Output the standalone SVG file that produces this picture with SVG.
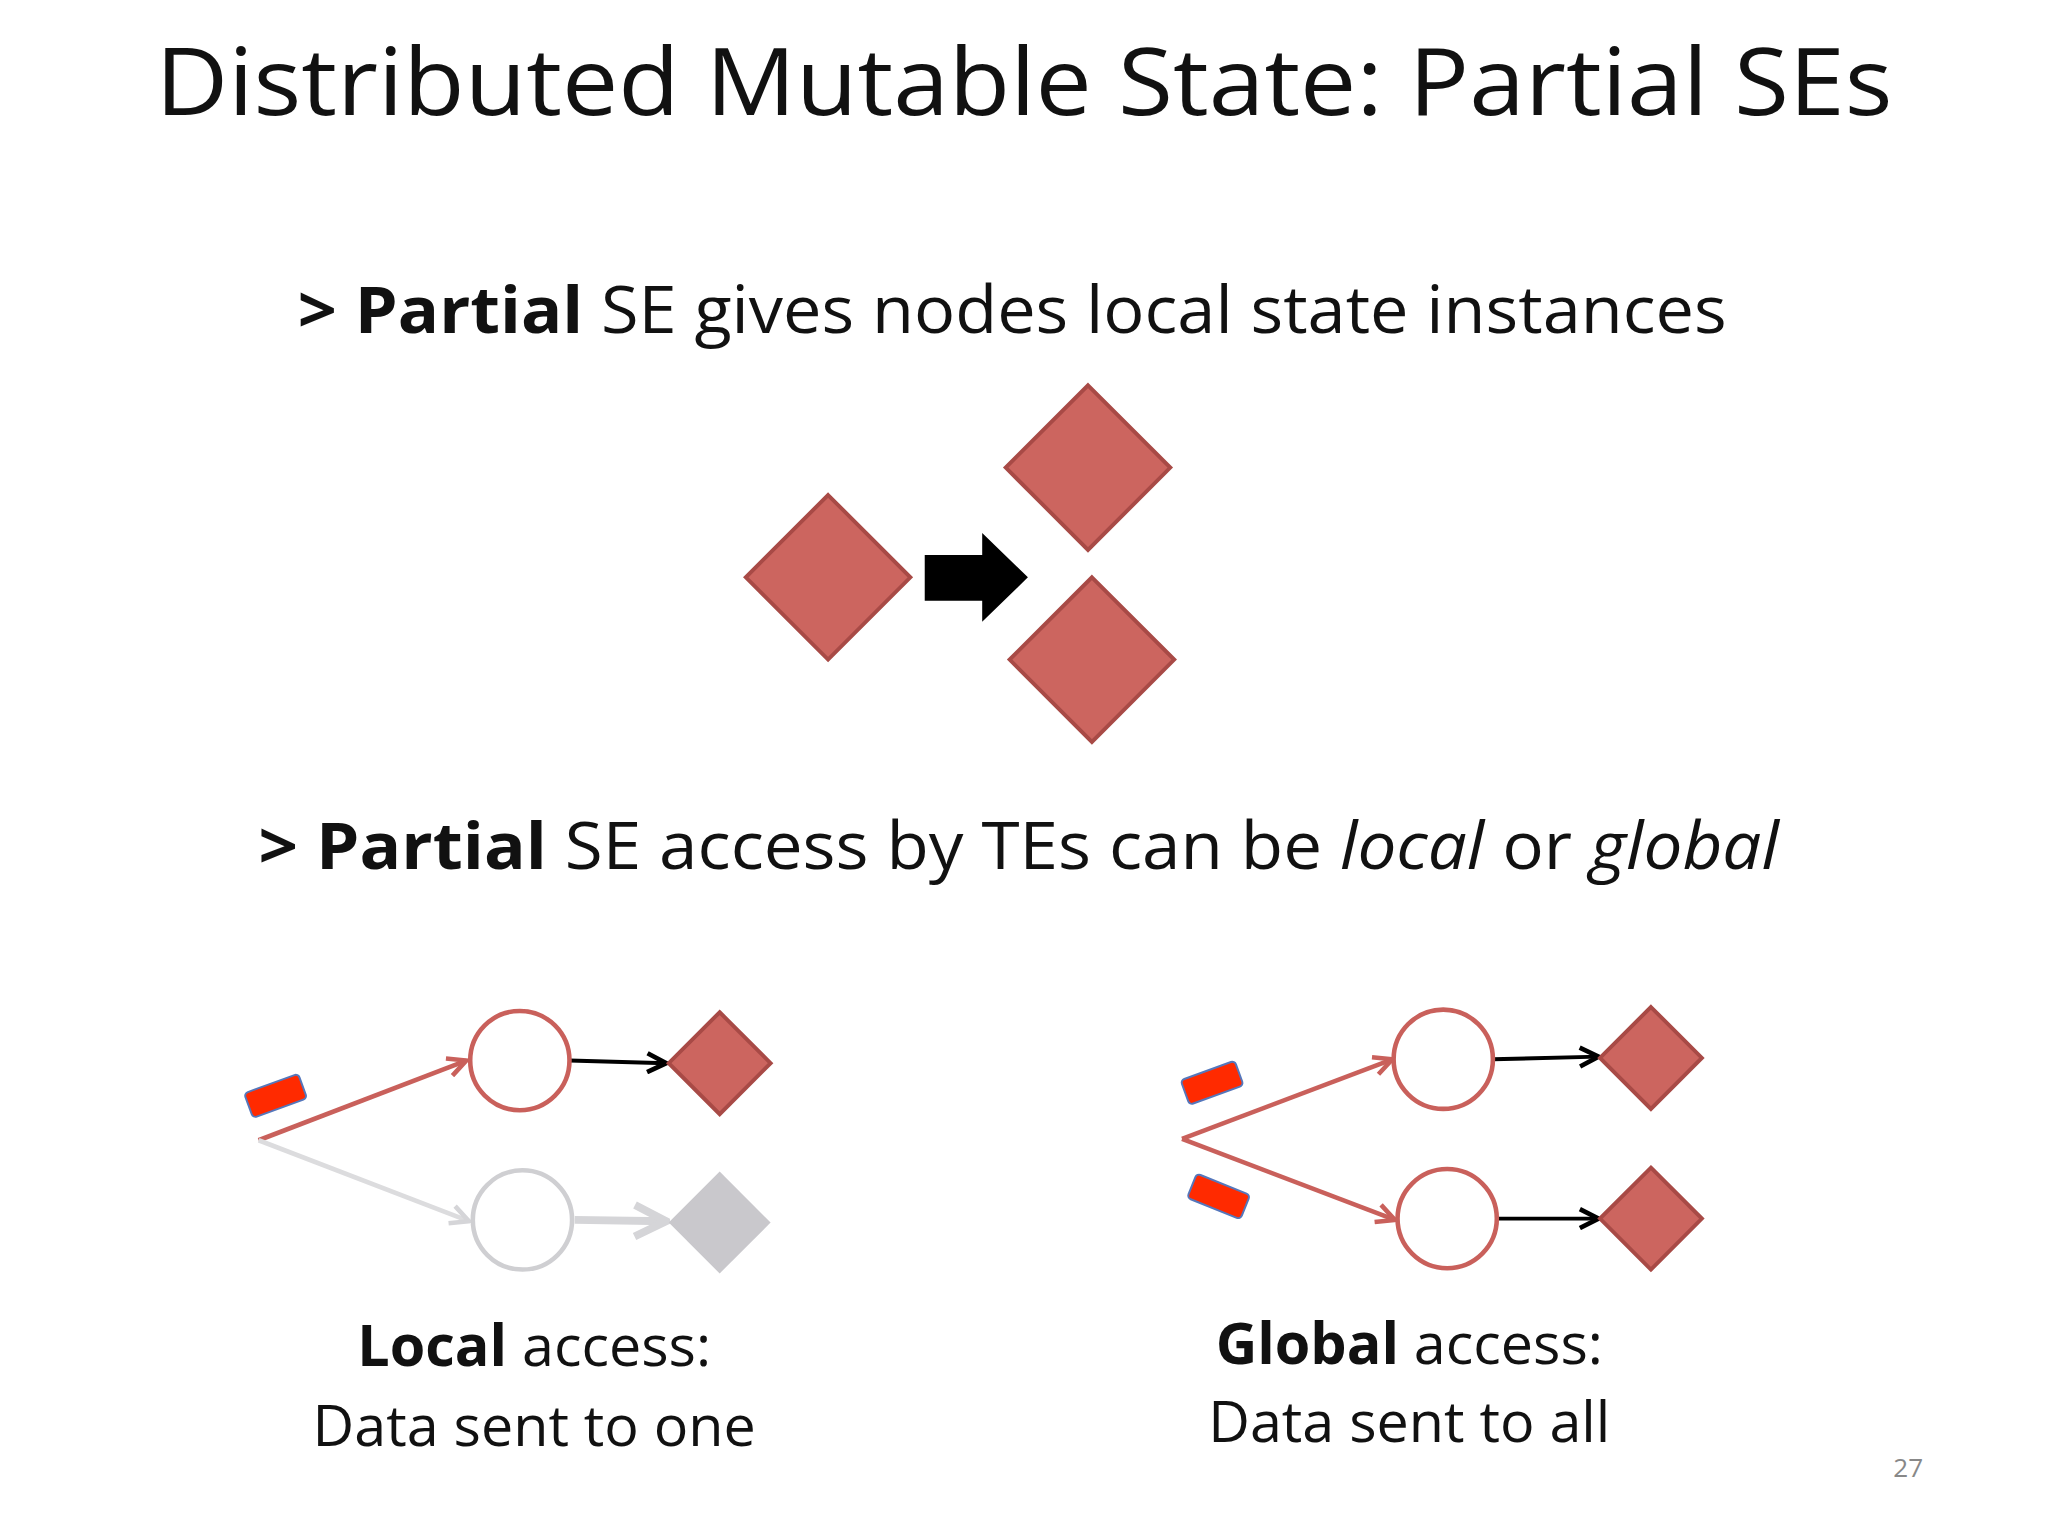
<svg xmlns="http://www.w3.org/2000/svg" width="2048" height="1536" viewBox="0 0 2048 1536">
<defs>
<style>
text{font-family:"Open Sans","Liberation Sans",sans-serif;fill:#111}
.d{fill:#cc655f;stroke:#a84a46;stroke-width:3}
.g{fill:#c9c8cc}
.c{fill:#fff;stroke:#c9605b;stroke-width:3.5}
.cg{fill:#fff;stroke:#cfcfd2;stroke-width:3.5}
.lr{stroke:#c9605b;stroke-width:3.5;fill:none}
.lg{stroke:#dcdcde;stroke-width:3.5;fill:none}
.lb{stroke:#000;stroke-width:3;fill:none}
.te{fill:#ff2a00;stroke:#5577bb;stroke-width:1.5}
</style>
<marker id="mr" viewBox="0 0 10 10" refX="9" refY="5" markerWidth="5" markerHeight="5" orient="auto"><path d="M1,1 L9,5 L1,9" fill="none" stroke="#c9605b" stroke-width="2"/></marker>
<marker id="mg" viewBox="0 0 10 10" refX="9" refY="5" markerWidth="5" markerHeight="5" orient="auto"><path d="M1,1 L9,5 L1,9" fill="none" stroke="#d5d5d8" stroke-width="2"/></marker>
<marker id="mb" viewBox="0 0 10 10" refX="9" refY="5" markerWidth="6" markerHeight="6" orient="auto"><path d="M1,1 L9,5 L1,9" fill="none" stroke="#000" stroke-width="2"/></marker>
</defs>
<rect width="2048" height="1536" fill="#fff"/>
<g transform="scale(1.30612)">
<g id="title"><text x="784" y="88" font-size="72" text-anchor="middle" textLength="1330" lengthAdjust="spacingAndGlyphs">Distributed Mutable State: Partial SEs</text></g>
<g id="b1"><text x="228" y="255" font-size="50" textLength="1094" lengthAdjust="spacingAndGlyphs"><tspan font-weight="bold">&gt; Partial</tspan> SE gives nodes local state instances</text></g>
<g id="b2"><text x="198" y="665" font-size="50" textLength="1164" lengthAdjust="spacingAndGlyphs"><tspan font-weight="bold">&gt; Partial</tspan> SE access by TEs can be <tspan font-style="italic">local</tspan> or <tspan font-style="italic">global</tspan></text></g>
<g id="se"><path class="d" d="M634,379 L697,442 L634,505 L571,442Z"/></g>
<g id="se1"><path class="d" d="M833,295 L896,358 L833,421 L770,358Z"/></g>
<g id="se2"><path class="d" d="M836,442 L899,505 L836,568 L773,505Z"/></g>
<g id="bigarrow"><path d="M708,425 L752,425 L752,408 L787,442 L752,476 L752,460 L708,460Z" fill="#000"/></g>
<g id="connectors">
<line class="lr" x1="198" y1="873" x2="357" y2="812" marker-end="url(#mr)"/>
<line class="lg" x1="198" y1="873" x2="359" y2="935" marker-end="url(#mg)"/>
<line class="lb" x1="436" y1="812" x2="510" y2="814" marker-end="url(#mb)"/>
<line stroke="#d5d5d8" stroke-width="6" x1="440" y1="934" x2="510" y2="935" marker-end="url(#mg)"/>
<line class="lr" x1="905" y1="872" x2="1066" y2="811" marker-end="url(#mr)"/>
<line class="lr" x1="905" y1="872" x2="1068" y2="934" marker-end="url(#mr)"/>
<line class="lb" x1="1143" y1="811" x2="1224" y2="809" marker-end="url(#mb)"/>
<line class="lb" x1="1146" y1="933" x2="1224" y2="933" marker-end="url(#mb)"/>
</g>
<g id="teL"><rect class="te" x="189" y="829" width="44" height="20" rx="3" transform="rotate(-20 211 839)"/></g>
<g id="cL1"><circle class="c" cx="398" cy="812" r="38"/></g>
<g id="cL2"><circle class="cg" cx="400" cy="934" r="38"/></g>
<g id="dL1"><path class="d" d="M551,775 L590,814 L551,853 L512,814Z"/></g>
<g id="dL2"><path class="g" d="M551,897 L590,936 L551,975 L512,936Z"/></g>
<g id="teR1"><rect class="te" x="906" y="819" width="44" height="20" rx="3" transform="rotate(-20 928 829)"/></g>
<g id="teR2"><rect class="te" x="911" y="906" width="44" height="20" rx="3" transform="rotate(22 933 916)"/></g>
<g id="cR1"><circle class="c" cx="1105" cy="811" r="38"/></g>
<g id="cR2"><circle class="c" cx="1108" cy="933" r="38"/></g>
<g id="dR1"><path class="d" d="M1264,771 L1303,810 L1264,849 L1225,810Z"/></g>
<g id="dR2"><path class="d" d="M1264,894 L1303,933 L1264,972 L1225,933Z"/></g>
<g id="labels">
<text x="409" y="1046" font-size="44" text-anchor="middle"><tspan font-weight="bold">Local</tspan> access:</text>
<text x="409" y="1107" font-size="44" text-anchor="middle">Data sent to one</text>
<text x="1079" y="1044" font-size="44" text-anchor="middle"><tspan font-weight="bold">Global</tspan> access:</text>
<text x="1079" y="1104" font-size="44" text-anchor="middle">Data sent to all</text>
<text x="1461" y="1131" font-size="20" text-anchor="middle" style="fill:#888">27</text>
</g>
</g>
</svg>
